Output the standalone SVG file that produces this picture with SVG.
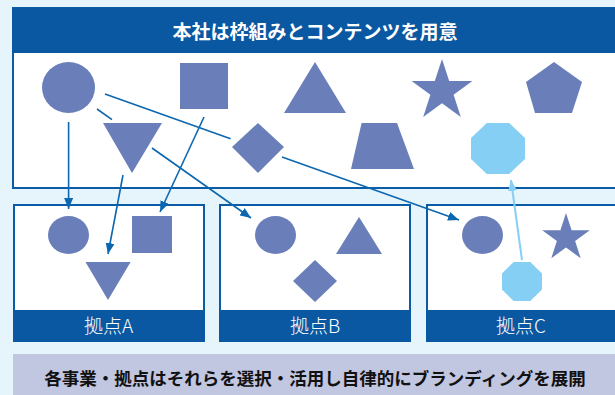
<svg xmlns="http://www.w3.org/2000/svg" width="615" height="395" viewBox="0 0 615 395">
<defs>
<style>
.bg{fill:#e6f4fc}
.hdr{fill:#0a58a2}
.box{fill:#fff;stroke:#0a5ca6;stroke-width:2}
.sh{fill:#6a7fba}
.oct{fill:#86cff4}
.con{fill:none;stroke:#0c67b1;stroke-width:1.6}
.con2{fill:none;stroke:#86cff4;stroke-width:2}
.t1{font-family:"Noto Sans CJK JP","Noto Sans",sans-serif;font-weight:bold;font-size:19px;fill:#fff;text-anchor:middle}
.t2{font-family:"Noto Sans CJK JP","Noto Sans",sans-serif;font-weight:300;font-size:19px;fill:#fff;text-anchor:middle}
.t3{font-family:"Noto Sans CJK JP","Noto Sans",sans-serif;font-weight:bold;font-size:17.5px;fill:#111;text-anchor:middle}
</style>
<marker id="ah" markerUnits="userSpaceOnUse" markerWidth="11" markerHeight="9" refX="11" refY="4.5" orient="auto"><path d="M0,0 L11,4.5 L0,9 z" fill="#0c67b1"/></marker>
<marker id="ah2" markerUnits="userSpaceOnUse" markerWidth="11" markerHeight="9" refX="11" refY="4.5" orient="auto"><path d="M0,0 L11,4.5 L0,9 z" fill="#86cff4"/></marker>
</defs>
<rect class="bg" x="0" y="0" width="615" height="395"/>
<g id="top-box">
<rect class="box" x="13" y="8" width="610" height="180"/>
<rect class="hdr" x="12" y="8" width="610" height="45"/>
<text class="t1" x="315" y="39">本社は枠組みとコンテンツを用意</text>
</g>
<g id="box-a">
<rect class="box" x="14" y="205" width="190" height="136"/>
<rect class="hdr" x="13" y="310" width="192" height="32"/>
<text class="t2" x="108.5" y="333">拠点A</text>
</g>
<g id="box-b">
<rect class="box" x="220" y="205" width="190" height="136"/>
<rect class="hdr" x="219" y="310" width="192" height="32"/>
<text class="t2" x="315" y="333">拠点B</text>
</g>
<g id="box-c">
<rect class="box" x="427" y="205" width="190" height="136"/>
<rect class="hdr" x="426" y="310" width="192" height="32"/>
<text class="t2" x="521" y="333">拠点C</text>
</g>
<g id="bottom-band">
<rect x="13" y="354" width="605" height="45" fill="#c1c6e1"/>
<text class="t3" x="315" y="385">各事業・拠点はそれらを選択・活用し自律的にブランディングを展開</text>
</g>
<g id="connectors">
<path class="con" d="M68.6,122 L68.6,209" marker-end="url(#ah)"/>
<path class="con" d="M97,109 L112,119.6 M152,148 L251,218" marker-end="url(#ah)"/>
<path class="con" d="M105,94 L230.6,138.7 M282,157 L459,220" marker-end="url(#ah)"/>
<path class="con" d="M204,117 L160,212" marker-end="url(#ah)"/>
<path class="con" d="M123,175 L108,254" marker-end="url(#ah)"/>
<path class="con2" d="M522,260 L511,180" marker-end="url(#ah2)"/>
</g>
<g id="top-circle"><ellipse class="sh" cx="68.5" cy="87.5" rx="26.5" ry="25.5"/></g>
<g id="top-square"><rect class="sh" x="180" y="63" width="48" height="46"/></g>
<g id="top-triangle"><polygon class="sh" points="315,62 346,113 284,113"/></g>
<g id="top-star"><polygon class="sh" points="442,59 449.2,81.1 472.4,81.1 453.6,94.8 460.8,116.9 442,103.2 423.2,116.9 430.4,94.8 411.6,81.1 434.8,81.1"/></g>
<g id="top-pentagon"><polygon class="sh" points="554,62 582,82 572,113 535,113 526,82"/></g>
<g id="top-inv-triangle"><polygon class="sh" points="103,123 162,123 132,173"/></g>
<g id="top-diamond"><polygon class="sh" points="232,147 258,123 284,147 258,173"/></g>
<g id="top-trapezoid"><polygon class="sh" points="361.6,123 397,123 414,169 351,169"/></g>
<g id="top-octagon"><polygon class="oct" points="486.8,123 509.2,123 525,138 525,159 509.2,174 486.8,174 471,159 471,138"/></g>
<g id="a-circle"><ellipse class="sh" cx="68.5" cy="235" rx="20.5" ry="19"/></g>
<g id="a-square"><rect class="sh" x="132" y="216" width="40" height="37"/></g>
<g id="a-inv-triangle"><polygon class="sh" points="85.5,262 130.6,262 108,300"/></g>
<g id="b-circle"><ellipse class="sh" cx="275.5" cy="235" rx="20.5" ry="19"/></g>
<g id="b-triangle"><polygon class="sh" points="359,217 382,254 336,254"/></g>
<g id="b-diamond"><polygon class="sh" points="293,281 315,260 337,281 315,302"/></g>
<g id="c-circle"><ellipse class="sh" cx="482.5" cy="235" rx="20.5" ry="19"/></g>
<g id="c-star"><polygon class="sh" points="566,213 571.6,230.3 589.8,230.3 575.1,241 580.7,258.2 566,247.6 551.3,258.2 556.9,241 542.2,230.3 560.4,230.3"/></g>
<g id="c-octagon"><polygon class="oct" points="513.7,262 530.3,262 542,273.4 542,289.6 530.3,301 513.7,301 502,289.6 502,273.4"/></g>
</svg>
